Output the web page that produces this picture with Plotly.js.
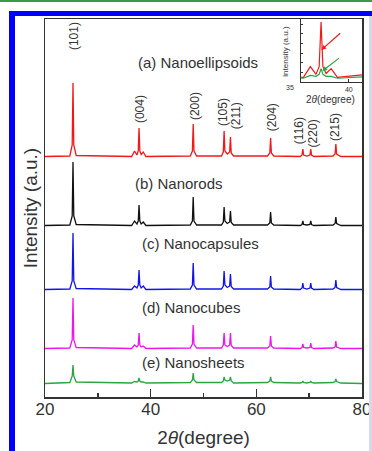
<!DOCTYPE html>
<html><head><meta charset="utf-8">
<script src="https://cdn.plot.ly/plotly-3.0.1.min.js"></script>
<style>
html,body{margin:0;padding:0;background:#fff;}
#wrap{position:relative;width:372px;height:451px;overflow:hidden;}
#chart{position:absolute;left:0;top:0;width:372px;height:451px;}
.bar{position:absolute;z-index:10;}
</style></head><body>
<div id="wrap">
<div id="chart"></div>
<div class="bar" style="left:0;top:0;width:372px;height:2px;background:#3a9a48"></div>
<div class="bar" style="left:9px;top:11px;width:363px;height:5px;background:#0000ff"></div>
<div class="bar" style="left:9px;top:11px;width:6px;height:440px;background:#0000ff"></div>
<div class="bar" style="left:369px;top:16px;width:3px;height:435px;background:#d6d7f4"></div>
</div>
<script>
// 2θ sampling points (degrees)
const twoTheta = [20, 24.7, 25.15, 25.3, 25.45, 25.9, 36.4, 36.95, 37.4, 37.65, 37.8, 37.95, 38.2, 38.6, 39.1, 47.5, 47.9, 48.05, 48.2, 48.7, 53.4, 53.75, 53.9, 54.05, 54.5, 54.95, 55.1, 55.25, 55.7, 62.1, 62.55, 62.7, 62.85, 63.3, 68.3, 68.65, 68.8, 68.95, 69.55, 70.15, 70.3, 70.45, 70.9, 74.5, 74.9, 75.05, 75.2, 75.5, 76.0, 80];

// Intensities (a.u.)
const nanoellipsoids = [0.5, 1,12,74,12,1.5, 0.5,6,2,6,29,6,2.5,5,0.5, 1,6,33,6,1, 1,5,26,6,3,5,20,4,1, 1,4,19,4,1, 0.5,2,8,2,1,2,8,2,0.5, 1,3,13,3,2,0.5, 0.5];
const nanorods       = [0.5, 1,10,64,10,1.5, 0.5,5,2,5,21,5,2,4,0.5, 1,5,29,5,1, 1,4,19,5,2.5,4,15,3.5,1, 1,3,14,3,1, 0.5,1.5,5,1.5,1,1.5,5,1.5,0.5, 1,2.5,9,2.5,1.5,0.5, 0.5];
const nanocapsules   = [0.5, 1,9,57,9,1.5, 0.5,4,2,5,20,5,2,4,0.5, 1,5,27,5,1, 1,4,19,5,2.5,4,16,3.5,1, 1,3,14,3,1, 0.5,2,7,2,1,2,7,2,0.5, 1,2.5,10,2.5,1.5,0.5, 0.5];
const nanocubes      = [0.5, 1,9,51,9,1.5, 0.5,4,2,4,16,4,2,3,0.5, 1,5,24,5,1, 1,4,16,4,2.5,4,16,3.5,1, 1,3,13,3,1, 0.5,1.5,5,1.5,1,1.5,6,1.5,0.5, 1,2,8,2,1.5,0.5, 0.5];
const nanosheets     = [0.5, 1.5,8,19,8,2, 1,2.5,2,3,6,3,2,2,1, 1.5,4,11,4,1.5, 1.5,3,7,4,3,4,7,3,1, 1.5,3,7,3,1.5, 1,1.5,3,1.5,1,1.5,3,1.5,1, 1.5,2.5,5,2.5,2,1, 0.5];

const sampleNames = ["(a) Nanoellipsoids", "(b) Nanorods", "(c) Nanocapsules", "(d) Nanocubes", "(e) Nanosheets"];
const millerLabels = ["(101)", "(004)", "(200)", "(105)", "(211)", "(204)", "(116)", "(220)", "(215)"];
const xTicks = [20, 40, 60, 80];
const insetTicks = [40];

// presentation
const series = [nanoellipsoids, nanorods, nanocapsules, nanocubes, nanosheets];
const colors = ["#f01818", "#111111", "#1414e6", "#ee14ee", "#2aa540"];
const offsets = [240, 171, 107, 48, 13];
const labelPos = [[49.0, 335], [45.4, 214], [49.4, 154], [47.7, 90], [48.2, 35]];
const millerPos = [[25.5, 361], [38.0, 288], [48.4, 291], [53.7, 285], [56.2, 281], [63.0, 280], [68.1, 266], [70.8, 264], [74.9, 270]];

const traces = series.map((s, i) => ({
  x: twoTheta, y: s.map(v => v + offsets[i]), type: 'scatter', mode: 'lines',
  line: {color: colors[i], width: 1.3}, xaxis: 'x', yaxis: 'y', hoverinfo: 'skip'
}));
// inset: (a) and (e)
const insetOff = [2, 1];
[[0, 0], [4, 1]].forEach(([si, k]) => {
  traces.push({x: twoTheta, y: series[si].map(v => v + insetOff[k]), type: 'scatter', mode: 'lines',
    line: {color: colors[si], width: 1.2}, xaxis: 'x2', yaxis: 'y2', hoverinfo: 'skip'});
});

const txt = '#333';
const ff = 'Liberation Sans, Arial, sans-serif';
const annotations = [];
sampleNames.forEach((n, i) => annotations.push({x: labelPos[i][0], y: labelPos[i][1], xref: 'x', yref: 'y',
  xanchor: 'center', yanchor: 'middle',
  text: n, showarrow: false, font: {size: 15, color: txt, family: ff}}));
millerLabels.forEach((n, i) => annotations.push({x: millerPos[i][0], y: millerPos[i][1], xref: 'x', yref: 'y',
  xanchor: 'center', yanchor: 'middle',
  text: n, textangle: -90, showarrow: false, font: {size: 12, color: txt, family: ff}}));
// inset arrows
annotations.push({x: 37.82, y: 16.6, ax: 39.44, ay: 25.9, xref: 'x2', yref: 'y2', axref: 'x2', ayref: 'y2',
  showarrow: true, arrowhead: 2, arrowsize: 0.8, arrowwidth: 1.2, arrowcolor: colors[0], text: ''});
annotations.push({x: 37.9, y: 5.7, ax: 39.35, ay: 13, xref: 'x2', yref: 'y2', axref: 'x2', ayref: 'y2',
  showarrow: true, arrowhead: 2, arrowsize: 0.8, arrowwidth: 1.2, arrowcolor: colors[4], text: ''});
// inset texts
annotations.push({x: 0.757, y: 0.915, xref: 'paper', yref: 'paper', xanchor: 'center', yanchor: 'middle',
  text: 'Intensity (a.u.)', textangle: -90, showarrow: false, font: {size: 8, color: txt, family: ff}});
annotations.push({x: 0.902, y: 0.786, xref: 'paper', yref: 'paper', xanchor: 'center', yanchor: 'middle',
  text: '2<i>θ</i>(degree)', showarrow: false, font: {size: 10, color: txt, family: ff}});
annotations.push({x: 0.772, y: 0.818, xref: 'paper', yref: 'paper', xanchor: 'center', yanchor: 'middle',
  text: '35', showarrow: false, font: {size: 7, color: txt, family: ff}});

const layout = {
  width: 372, height: 451,
  margin: {l: 45, r: 10, t: 19, b: 54},
  paper_bgcolor: '#fff', plot_bgcolor: '#fff',
  showlegend: false,
  font: {family: ff, color: txt},
  xaxis: {range: [20, 80], tickvals: xTicks, ticks: 'inside', ticklen: 8, tickwidth: 1.5, tickcolor: '#333',
    minor: {tickvals: [30, 50, 70], ticks: 'inside', ticklen: 4, tickwidth: 1.5, tickcolor: '#333'},
    showline: true, linecolor: '#333', linewidth: 1.5, mirror: true, showgrid: false, zeroline: false,
    tickfont: {size: 17, color: txt}, ticklabelstandoff: -4,
    title: {text: '2<i>θ</i>(degree)', font: {size: 19, color: txt}, standoff: 13}},
  yaxis: {range: [0, 378], showticklabels: false, ticks: '', showline: true, linecolor: '#333', linewidth: 1.5,
    mirror: true, showgrid: false, zeroline: false,
    title: {text: 'Intensity (a.u.)', font: {size: 19, color: txt}, standoff: 1}},
  xaxis2: {domain: [0.8076, 1], anchor: 'y2', range: [36.21, 41.05], tickvals: insetTicks, ticks: 'inside', ticklen: 3,
    tickcolor: '#333', showline: true, linecolor: '#333', linewidth: 1, mirror: true, showgrid: false, zeroline: false,
    tickfont: {size: 7, color: txt}},
  yaxis2: {domain: [0.833, 1], anchor: 'x2', range: [0, 32.6], dtick: 5, ticks: 'inside', ticklen: 2, tickcolor: '#333',
    showticklabels: false, showline: true, linecolor: '#333', linewidth: 1, mirror: true, showgrid: false, zeroline: false},
  shapes: [{type: 'rect', xref: 'x2 domain', yref: 'y2 domain', x0: 0, x1: 1, y0: 0, y1: 1, fillcolor: '#fff', line: {width: 0}, layer: 'below'}],
  annotations: annotations
};
Plotly.newPlot('chart', traces, layout, {staticPlot: true, displayModeBar: false});
</script>
</body></html>
